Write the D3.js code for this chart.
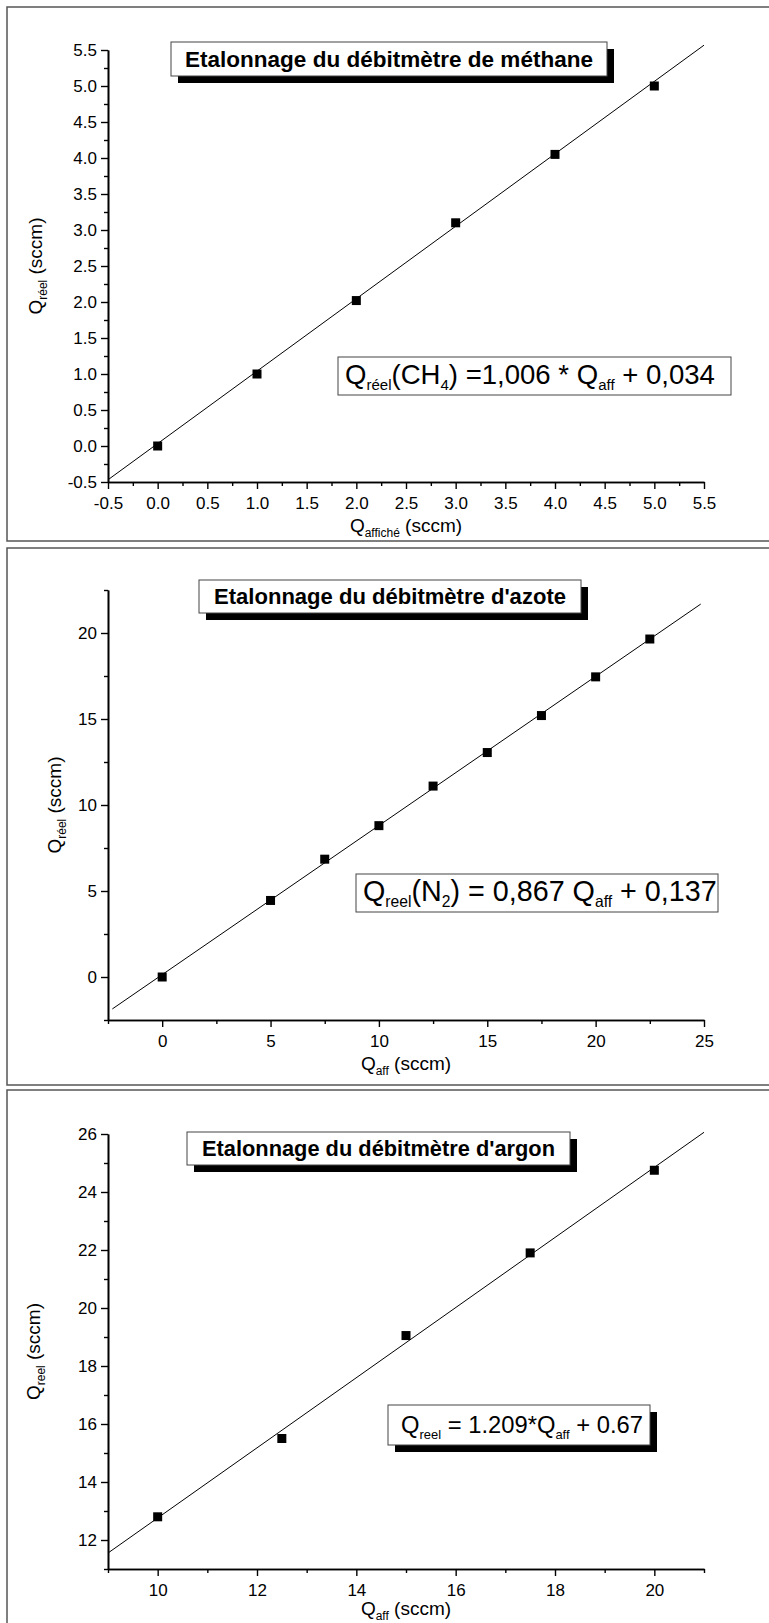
<!DOCTYPE html>
<html><head><meta charset="utf-8">
<script src="https://cdn.jsdelivr.net/npm/d3@7"></script>
<style>body{margin:0;background:#fff} svg{display:block}</style>
</head><body><svg id="c" width="769" height="1623"></svg>
<script>
// ---- Data ----
const ch4X = [0, 1, 2, 3, 4, 5];
const ch4Y = [0.0, 1.0, 2.02, 3.1, 4.05, 5.0];
const ch4Fit = [1.006, 0.034];
const ch4LineX = [-0.5, 5.5];
const ch4XTicks = [-0.5, 0, 0.5, 1, 1.5, 2, 2.5, 3, 3.5, 4, 4.5, 5, 5.5];
const ch4YTicks = [-0.5, 0, 0.5, 1, 1.5, 2, 2.5, 3, 3.5, 4, 4.5, 5, 5.5];
const ch4Minor = [-0.25, 0.25, 0.75, 1.25, 1.75, 2.25, 2.75, 3.25, 3.75, 4.25, 4.75, 5.25];

const n2X = [0, 5, 7.5, 10, 12.5, 15, 17.5, 20, 22.5];
const n2Y = [0, 4.45, 6.85, 8.8, 11.1, 13.05, 15.2, 17.45, 19.65];
const n2Fit = [0.867, 0.137];
const n2LineX = [-2.3, 24.85];
const n2XTicks = [0, 5, 10, 15, 20, 25];
const n2XMinor = [-2.5, 2.5, 7.5, 12.5, 17.5, 22.5];
const n2YTicks = [0, 5, 10, 15, 20];
const n2YMinor = [-2.5, 2.5, 7.5, 12.5, 17.5, 22.5];

const arX = [10, 12.5, 15, 17.5, 20];
const arY = [12.8, 15.5, 19.05, 21.9, 24.75];
const arFit = [1.209, 0.67];
const arLineX = [9, 21];
const arXTicks = [10, 12, 14, 16, 18, 20];
const arXMinor = [9, 11, 13, 15, 17, 19, 21];
const arYTicks = [12, 14, 16, 18, 20, 22, 24, 26];
const arYMinor = [11, 13, 15, 17, 19, 21, 23, 25];

const titles = ["Etalonnage du débitmètre de méthane", "Etalonnage du débitmètre d'azote", "Etalonnage du débitmètre d'argon"];
const eq1 = [["Q",0],["réel",1],["(CH",0],["4",1],[") =1,006 * Q",0],["aff",1],[" + 0,034",0]];
const eq2 = [["Q",0],["reel",1],["(N",0],["2",1],[") = 0,867 Q",0],["aff",1],[" + 0,137",0]];
const eq3 = [["Q",0],["reel",1],[" = 1.209*Q",0],["aff",1],[" + 0.67",0]];
const yLab1 = [["Q",0],["réel",1],[" (sccm)",0]];
const yLab2 = [["Q",0],["réel",1],[" (sccm)",0]];
const yLab3 = [["Q",0],["reel",1],[" (sccm)",0]];
const xLab1 = [["Q",0],["affiché",1],[" (sccm)",0]];
const xLab2 = [["Q",0],["aff",1],[" (sccm)",0]];
const xLab3 = [["Q",0],["aff",1],[" (sccm)",0]];

// ---- Drawing ----
const svg = d3.select("#c");
const SANS = "'Liberation Sans', Arial, sans-serif";

function richText(sel, parts, subSize, shift) {
  sel.selectAll("tspan").remove();
  let down = false;
  parts.forEach(([t, s]) => {
    const ts = sel.append("tspan").text(t);
    if (s) { ts.attr("font-size", subSize); if (!down) { ts.attr("dy", shift); down = true; } }
    else { if (down) { ts.attr("dy", -shift); down = false; } }
  });
}

function panel(cfg) {
  const g = svg.append("g");
  g.append("rect").attr("x", 7).attr("y", cfg.boxTop).attr("width", 800).attr("height", cfg.boxBottom - cfg.boxTop)
    .attr("fill", "none").attr("stroke", "#555").attr("stroke-width", 1.5);

  const x = d3.scaleLinear().domain(cfg.xDomain).range([108, 704]);
  const y = d3.scaleLinear().domain(cfg.yDomain).range([cfg.bottom, cfg.top]);

  const styleAxis = a => {
    a.select(".domain").attr("stroke", "#000").attr("stroke-width", 1.6);
    a.selectAll(".tick line").attr("stroke", "#000").attr("stroke-width", 1.4);
    a.selectAll("text").attr("font-family", SANS).attr("font-size", 17).attr("fill", "#000");
  };
  g.append("g").attr("transform", `translate(0,${cfg.bottom})`)
    .call(d3.axisBottom(x).tickValues(cfg.xMinor).tickSize(4).tickSizeOuter(0).tickFormat(""))
    .call(styleAxis);
  g.append("g").attr("transform", `translate(108,0)`)
    .call(d3.axisLeft(y).tickValues(cfg.yMinor).tickSize(4).tickSizeOuter(0).tickFormat(""))
    .call(styleAxis);
  g.append("g").attr("transform", `translate(0,${cfg.bottom})`)
    .call(d3.axisBottom(x).tickValues(cfg.xTicks).tickSize(7).tickPadding(8).tickSizeOuter(0).tickFormat(cfg.fmt))
    .call(styleAxis);
  g.append("g").attr("transform", `translate(108,0)`)
    .call(d3.axisLeft(y).tickValues(cfg.yTicks).tickSize(7).tickPadding(4).tickSizeOuter(0).tickFormat(cfg.fmt))
    .call(styleAxis);

  // fit line
  const line = d3.line().x(d => x(d)).y(d => y(cfg.fit[0] * d + cfg.fit[1]));
  g.append("path").datum(cfg.lineX).attr("d", line).attr("fill", "none").attr("stroke", "#000").attr("stroke-width", 1);

  // points
  g.selectAll(".pt").data(cfg.xs).join("rect").attr("class", "pt")
    .attr("x", (d) => x(d) - 4.5).attr("y", (d, i) => y(cfg.ys[i]) - 4.5)
    .attr("width", 9).attr("height", 9).attr("fill", "#000");

  // title box
  const t = cfg.title;
  g.append("rect").attr("x", t.x + 7).attr("y", t.y + 7).attr("width", t.w).attr("height", t.h).attr("fill", "#000");
  g.append("rect").attr("x", t.x).attr("y", t.y).attr("width", t.w).attr("height", t.h)
    .attr("fill", "#fff").attr("stroke", "#444").attr("stroke-width", 1);
  g.append("text").attr("x", t.x + t.w / 2).attr("y", t.y + t.h / 2 + 7.5).attr("text-anchor", "middle")
    .attr("font-family", SANS).attr("font-weight", "bold").attr("font-size", 22)
    .attr("textLength", t.tw).attr("lengthAdjust", "spacingAndGlyphs").text(t.text);

  // equation box
  const e = cfg.eq;
  if (e.shadow) g.append("rect").attr("x", e.x + 7).attr("y", e.y + 7).attr("width", e.w).attr("height", e.h).attr("fill", "#000");
  g.append("rect").attr("x", e.x).attr("y", e.y).attr("width", e.w).attr("height", e.h)
    .attr("fill", "#fff").attr("stroke", "#444").attr("stroke-width", 1);
  const et = g.append("text").attr("x", e.x + e.pad).attr("y", e.y + e.h / 2 + 8)
    .attr("font-family", SANS).attr("font-size", 22).attr("fill", "#000");
  richText(et, e.parts, 12, 6);
  const k = e.tw / et.node().getComputedTextLength();
  et.attr("font-size", 22 * k);
  richText(et, e.parts, 12 * k, 6);

  // axis labels
  const xl = g.append("text").attr("x", 406).attr("y", cfg.bottom + cfg.xlabOff).attr("text-anchor", "middle")
    .attr("font-family", SANS).attr("font-size", 19).attr("fill", "#000");
  richText(xl, cfg.xlab, 12, 5);
  const yl = g.append("text").attr("transform", `translate(${cfg.ylabX},${(cfg.top + cfg.bottom) / 2}) rotate(-90)`)
    .attr("text-anchor", "middle").attr("font-family", SANS).attr("font-size", 19).attr("fill", "#000");
  richText(yl, cfg.ylab, 12, 5);
}

panel({
  boxTop: 7, boxBottom: 541, top: 50, bottom: 482,
  xDomain: [-0.5, 5.5], yDomain: [-0.5, 5.5],
  xTicks: ch4XTicks, yTicks: ch4YTicks, xMinor: ch4Minor, yMinor: ch4Minor,
  fmt: d => d.toFixed(1),
  xs: ch4X, ys: ch4Y, fit: ch4Fit, lineX: ch4LineX,
  title: {x: 171, y: 42, w: 436, h: 34, tw: 408, text: titles[0]},
  eq: {x: 338, y: 357, w: 393, h: 38, pad: 7, tw: 370, parts: eq1, shadow: false},
  xlab: xLab1, ylab: yLab1, xlabOff: 50, ylabX: 42
});
panel({
  boxTop: 548, boxBottom: 1085, top: 590, bottom: 1020,
  xDomain: [-2.5, 25], yDomain: [-2.5, 22.5],
  xTicks: n2XTicks, yTicks: n2YTicks, xMinor: n2XMinor, yMinor: n2YMinor,
  fmt: d => String(d),
  xs: n2X, ys: n2Y, fit: n2Fit, lineX: n2LineX,
  title: {x: 199, y: 580, w: 382, h: 33, tw: 352, text: titles[1]},
  eq: {x: 356, y: 874, w: 362, h: 38, pad: 7, tw: 354, parts: eq2, shadow: false},
  xlab: xLab2, ylab: yLab2, xlabOff: 50, ylabX: 61
});
panel({
  boxTop: 1090, boxBottom: 1700, top: 1134, bottom: 1569,
  xDomain: [9, 21], yDomain: [11, 26],
  xTicks: arXTicks, yTicks: arYTicks, xMinor: arXMinor, yMinor: arYMinor,
  fmt: d => String(d),
  xs: arX, ys: arY, fit: arFit, lineX: arLineX,
  title: {x: 187, y: 1132, w: 383, h: 33, tw: 353, text: titles[2]},
  eq: {x: 388, y: 1405, w: 262, h: 40, pad: 13, tw: 242, parts: eq3, shadow: true},
  xlab: xLab3, ylab: yLab3, xlabOff: 46, ylabX: 40
});
</script></body></html>
